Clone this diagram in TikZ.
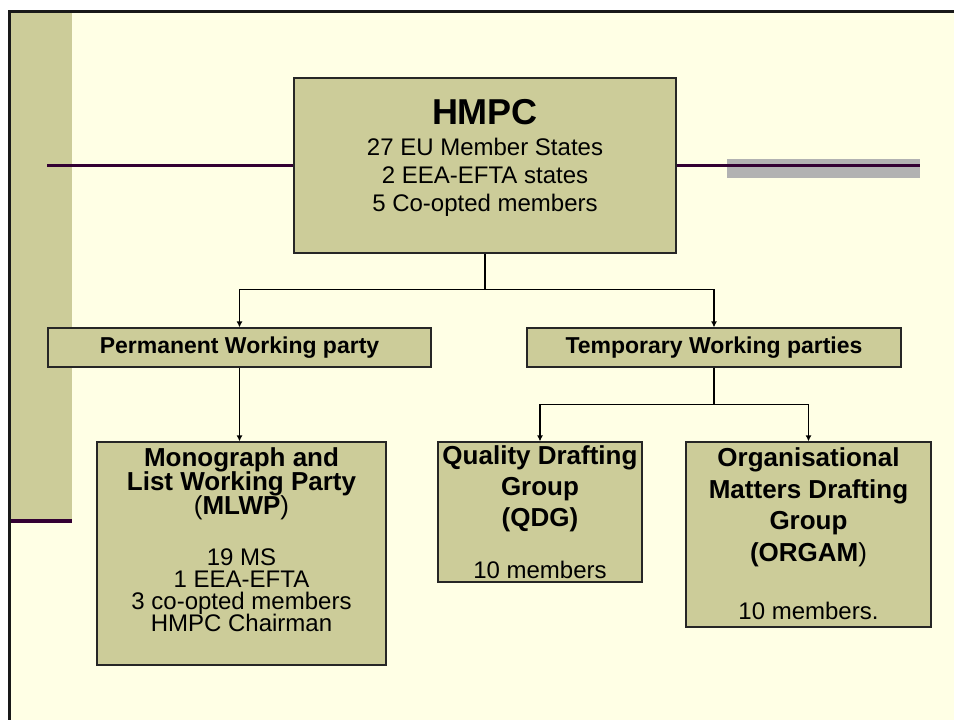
\documentclass[tikz,border=0pt]{standalone}
\usepackage{fontspec}
\setmainfont{Liberation Sans}
\usepackage{tikz}
\usetikzlibrary{arrows.meta}
\definecolor{slidebg}{HTML}{FFFFE5}
\definecolor{boxtan}{HTML}{CCCC99}
\definecolor{bardark}{HTML}{330033}
\definecolor{bargray}{HTML}{B2B2B2}
\tikzstyle{block} = [rectangle, draw=black!85, fill=boxtan, line width=1.2pt, inner sep=0pt, align=center]
\tikzstyle{line} = [draw, line width=1.2pt, -{Latex[length=6pt,width=6pt]}]
\tikzstyle{bar} = [draw=bardark, line width=3pt]
\tikzstyle{tag} = [font={\fontsize{23}{26}\selectfont\bfseries}, minimum height=39pt]
% text block of fixed size, text from the top
\newcommand{\blocktext}[3]{\parbox[c][#2][t]{#1}{\lineskiplimit=-100pt\parskip=0pt\centering #3}}

\begin{document}
\begin{tikzpicture}[x=1pt, y=-1pt]
    \useasboundingbox (0,0) rectangle (954,720);

    % slide background
    \fill[slidebg] (8,10) rectangle (954,720);
    \fill[boxtan] (8,10) rectangle (72,523);
    \draw[bardark, line width=4pt] (8,521) -- (72,521);
    \draw[black!90, line width=2.5pt] (9.25,720) -- (9.25,11.25) -- (954,11.25);
    \fill[bargray] (727,159) rectangle (920,178);

    % Nodes
    \node [block] (hmpc) at (485,165.5) {\blocktext{382pt}{175pt}{\vspace*{21pt}{\fontsize{36}{40}\selectfont\bfseries HMPC\par}\vspace{3pt}\fontsize{24}{28}\selectfont 27 EU Member States\\2 EEA-EFTA states\\5 Co-opted members}};
    \node [block, tag, minimum width=383pt] (perm) at (239.5,347.5) {Permanent Working party};
    \node [block, tag, minimum width=374pt] (temp) at (714,347.5) {Temporary Working parties};
    \node [block] (mlwp) at (241.5,553.5) {\blocktext{289pt}{223pt}{\vspace*{6pt}{\fontsize{26}{24}\selectfont\bfseries Monograph and\\List Working Party\\{\mdseries(}MLWP{\mdseries)}\par}\vspace{28.6pt}\fontsize{24}{22}\selectfont 19 MS\\1 EEA-EFTA\\3 co-opted members\\HMPC Chairman}};
    \node [block] (qdg) at (540,512) {\blocktext{204pt}{140pt}{\vspace*{4pt}{\fontsize{26}{31}\selectfont\bfseries Quality Drafting\\Group\\(QDG)\par}\vspace{24pt}\fontsize{24}{28}\selectfont 10 members}};
    \node [block] (orgam) at (808.5,534.5) {\blocktext{245pt}{185pt}{\vspace*{5.5pt}{\fontsize{26}{31.7}\selectfont\bfseries Organisational\\Matters Drafting\\Group\\(ORGAM{\mdseries)}\par}\vspace{30pt}\fontsize{24}{28}\selectfont 10 members.}};

    % bars beside the top box
    \coordinate (barleft) at (47,165.5);
    \coordinate (barright) at (920,165.5);
    \draw[bar] (barleft) -- (hmpc.west);
    \draw[bar] (hmpc.east) -- (barright);

    % arrows
    \draw[line] (hmpc.south) -- ++(0,36) -| (perm.north);
    \draw[line] (hmpc.south) -- ++(0,36) -| (temp.north);
    \draw[line] (perm.south) -- (perm.south |- mlwp.north);
    \draw[line] (temp.south) -- ++(0,37) -| (qdg.north);
    \draw[line] (temp.south) -- ++(0,37) -| (orgam.north);

\end{tikzpicture}
\end{document}
